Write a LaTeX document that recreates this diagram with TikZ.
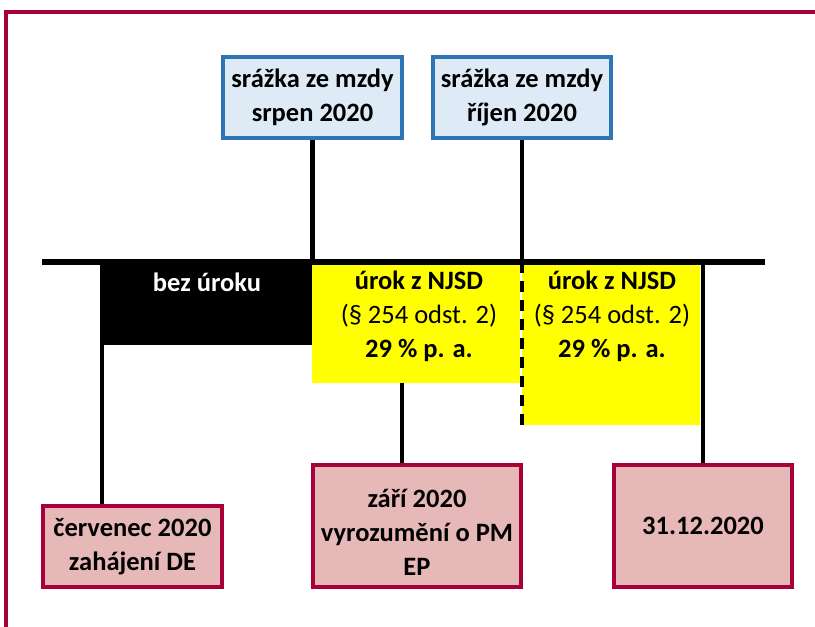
\documentclass[tikz,border=0pt]{standalone}
\usepackage{fontspec}
\setmainfont{Carlito}
\definecolor{framered}{RGB}{168,0,56}
\definecolor{boxblue}{RGB}{46,117,182}
\definecolor{paleblue}{RGB}{222,235,247}
\definecolor{palerose}{RGB}{230,184,183}
\definecolor{markyellow}{RGB}{255,255,0}
\begin{document}
\begin{tikzpicture}[x=1pt,y=-1pt,
  txt/.style={font=\bfseries\fontsize{26.5}{34}\selectfont, align=center, inner sep=0pt},
  bluebox/.style={draw=boxblue, line width=4pt, fill=paleblue, inner sep=0pt, txt},
  rosebox/.style={draw=framered, line width=4pt, fill=palerose, inner sep=0pt, txt},
  plainbox/.style={inner sep=0pt, outer sep=0pt},
  stem/.style={line width=4.5pt, black},
  axis/.style={line width=6.5pt, black},
  frameline/.style={line width=4pt, framered}]
\useasboundingbox (0,0) rectangle (815,627);

% outer frame
\coordinate (fr-bl) at (6,627);
\coordinate (fr-tl) at (6,12);
\coordinate (fr-tr) at (815,12);
\draw[frameline] (fr-bl) -- (fr-tl) -- (fr-tr);

% time axis
\coordinate (ax-l) at (42,262);
\coordinate (ax-r) at (765,262);

% interest periods
\node[plainbox, fill=black, minimum width=213pt, minimum height=80pt] (nobox) at (206.5,305) {};
\node[plainbox, fill=markyellow, minimum width=208pt, minimum height=118pt] (y1) at (416,324) {};
\node[plainbox, fill=markyellow, minimum width=178pt, minimum height=160pt] (y2) at (611,345) {};
\node[txt, text=white] (notxt) at (207,282) {bez úroku};
\node[txt] (y1txt) at (419,316) {úrok z NJSD\\{\mdseries (§ 254 odst. 2)}\\29 \% p. a.};
\node[txt] (y2txt) at (612,316) {úrok z NJSD\\{\mdseries (§ 254 odst. 2)}\\29 \% p. a.};

% wage deductions
\node[bluebox, minimum width=179pt, minimum height=81pt] (d1) at (312.5,97.5) {srážka ze mzdy\\srpen 2020};
\node[bluebox, minimum width=178pt, minimum height=81pt] (d2) at (522,97.5) {srážka ze mzdy\\říjen 2020};

% events
\node[rosebox, minimum width=179pt, minimum height=81pt] (e1) at (132.5,546.5) {červenec 2020\\zahájení DE};
\node[rosebox, minimum width=208pt, minimum height=122pt] (e2) at (417,526) {};
\node[txt] (e2txt) at (417,532) {září 2020\\vyrozumění o PM\\EP};
\node[rosebox, minimum width=178pt, minimum height=122pt] (e3) at (703,526) {31.12.2020};

% connectors
\coordinate (e1top) at (102,504);
\coordinate (e2top) at (402,463);
\draw[stem] (d1.south) -- (d1.south |- ax-l);
\draw[stem] (d2.south) -- (d2.south |- ax-l);
\draw[line width=3.5pt, dash pattern=on 11pt off 8pt] (d2.south |- ax-l) -- (d2.south |- y2.south);
\draw[stem] (e1top) -- (e1top |- nobox.south);
\draw[stem] (e2top) -- (e2top |- y1.south);
\draw[stem] (e3.north) -- (e3.north |- ax-l);
\draw[axis] (ax-l) -- (ax-r);
\end{tikzpicture}
\end{document}
